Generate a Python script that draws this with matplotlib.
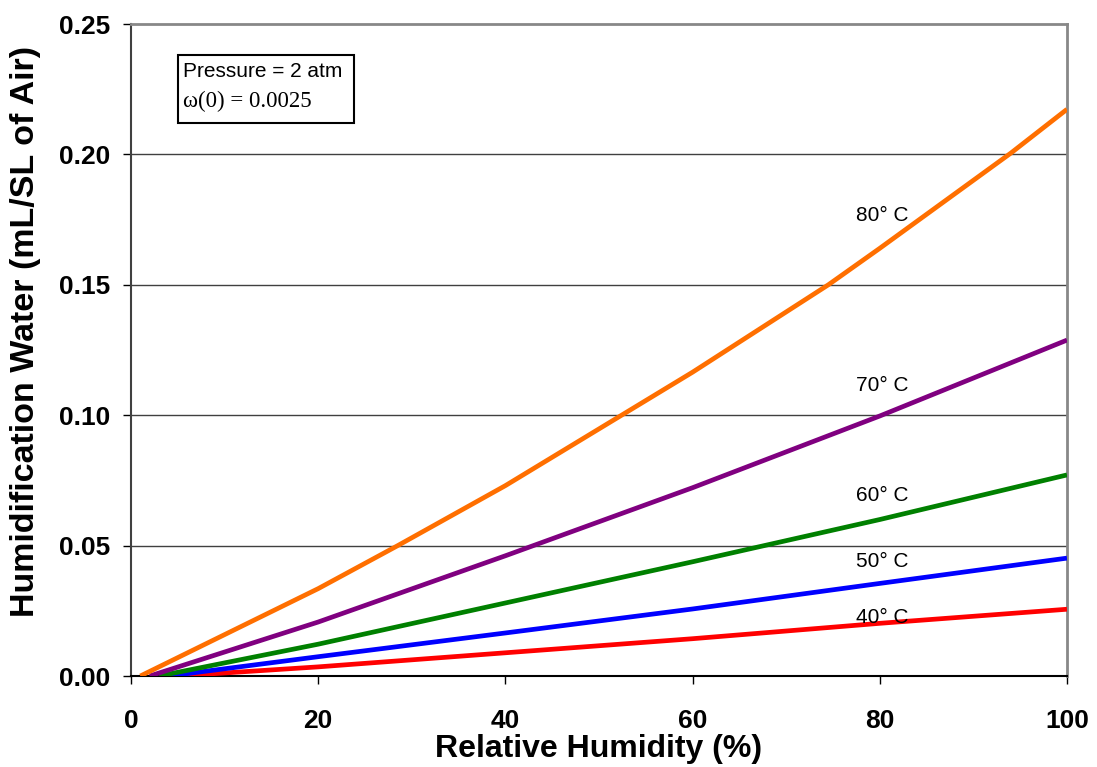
import numpy as np
import matplotlib
matplotlib.use('Agg')
import matplotlib.pyplot as plt
from matplotlib.patches import Rectangle

plt.rcParams['font.family'] = ['Liberation Sans', 'DejaVu Sans']

# humidification water vs relative humidity
rh_80 = [1, 20, 28.5, 40, 60, 74.5, 80, 94, 100]
w_80 = [0, 0.0335, 0.05, 0.0730, 0.1165, 0.15, 0.1640, 0.2005, 0.2173]
rh_70 = [2, 20, 40, 60, 80, 100]
w_70 = [0, 0.0207, 0.0461, 0.0722, 0.0997, 0.1288]
rh_60 = [3, 20, 40, 60, 80, 100]
w_60 = [0, 0.0122, 0.0280, 0.0438, 0.0600, 0.0771]
rh_50 = [4, 20, 40, 60, 80, 100]
w_50 = [0, 0.0074, 0.0165, 0.0257, 0.0355, 0.0452]
rh_40 = [5, 20, 40, 60, 80, 100]
w_40 = [0, 0.0035, 0.0089, 0.0143, 0.0202, 0.0256]

labels = ['80° C', '70° C', '60° C', '50° C', '40° C']
label_y = [0.1764, 0.1112, 0.0694, 0.0438, 0.0224]
colors = ['#FF6F00', '#800080', '#008000', '#0000FF', '#FF0000']

fig = plt.figure(figsize=(10.97, 7.67), dpi=100)
ax = fig.add_axes([131/1097, 91/767, 936/1097, 652/767])

series = [(rh_80, w_80), (rh_70, w_70), (rh_60, w_60), (rh_50, w_50), (rh_40, w_40)]
for (xs, ys), c in zip(series[::-1], colors[::-1]):
    ax.plot(xs, ys, color=c, lw=3.4, solid_capstyle='butt', solid_joinstyle='round', zorder=3)

for lab, ly in zip(labels, label_y):
    ax.text(77.5, ly, lab, fontsize=15, ha='left', va='center', zorder=4)

ax.set_xlim(0, 100)
ax.set_ylim(0, 0.25)
ax.set_xticks([0, 20, 40, 60, 80, 100])
ax.set_yticks([0, 0.05, 0.10, 0.15, 0.20, 0.25])
ax.set_yticklabels(['0.00', '0.05', '0.10', '0.15', '0.20', '0.25'])
for lab in ax.get_xticklabels() + ax.get_yticklabels():
    lab.set_fontweight('bold')
ax.tick_params(axis='x', direction='out', length=6, width=1, pad=18, labelsize=19)
ax.tick_params(axis='y', direction='out', length=6, width=1, pad=9, labelsize=19)

for gy in [0.05, 0.10, 0.15, 0.20]:
    ax.axhline(gy, color='#404040', lw=1, zorder=1)

ax.spines['left'].set_color('#404040')
ax.spines['left'].set_linewidth(1.5)
ax.spines['bottom'].set_color('black')
ax.spines['bottom'].set_linewidth(1.5)
ax.spines['top'].set_color('#888888')
ax.spines['top'].set_linewidth(2)
ax.spines['right'].set_color('#888888')
ax.spines['right'].set_linewidth(2)

ax.set_xlabel('Relative Humidity (%)', fontsize=23, fontweight='bold', va='center')
ax.xaxis.set_label_coords(0.5, -0.112)
ax.set_ylabel('Humidification Water (mL/SL of Air)', fontsize=24.5, fontweight='bold', va='center')
ax.yaxis.set_label_coords(-0.113, 0.528)

# info box
ax.add_patch(Rectangle((5.0, 0.212), 18.8, 0.0261, facecolor='white', edgecolor='black', lw=1.5, zorder=5))
ax.text(5.6, 0.2317, 'Pressure = 2 atm', fontsize=15, ha='left', va='center', zorder=6)
ax.text(5.6, 0.2202, 'ω(0) = 0.0025', fontsize=16.5, ha='left', va='center', zorder=6,
        family=['Liberation Serif', 'DejaVu Serif'])

fig.savefig('out.png', dpi=100)
